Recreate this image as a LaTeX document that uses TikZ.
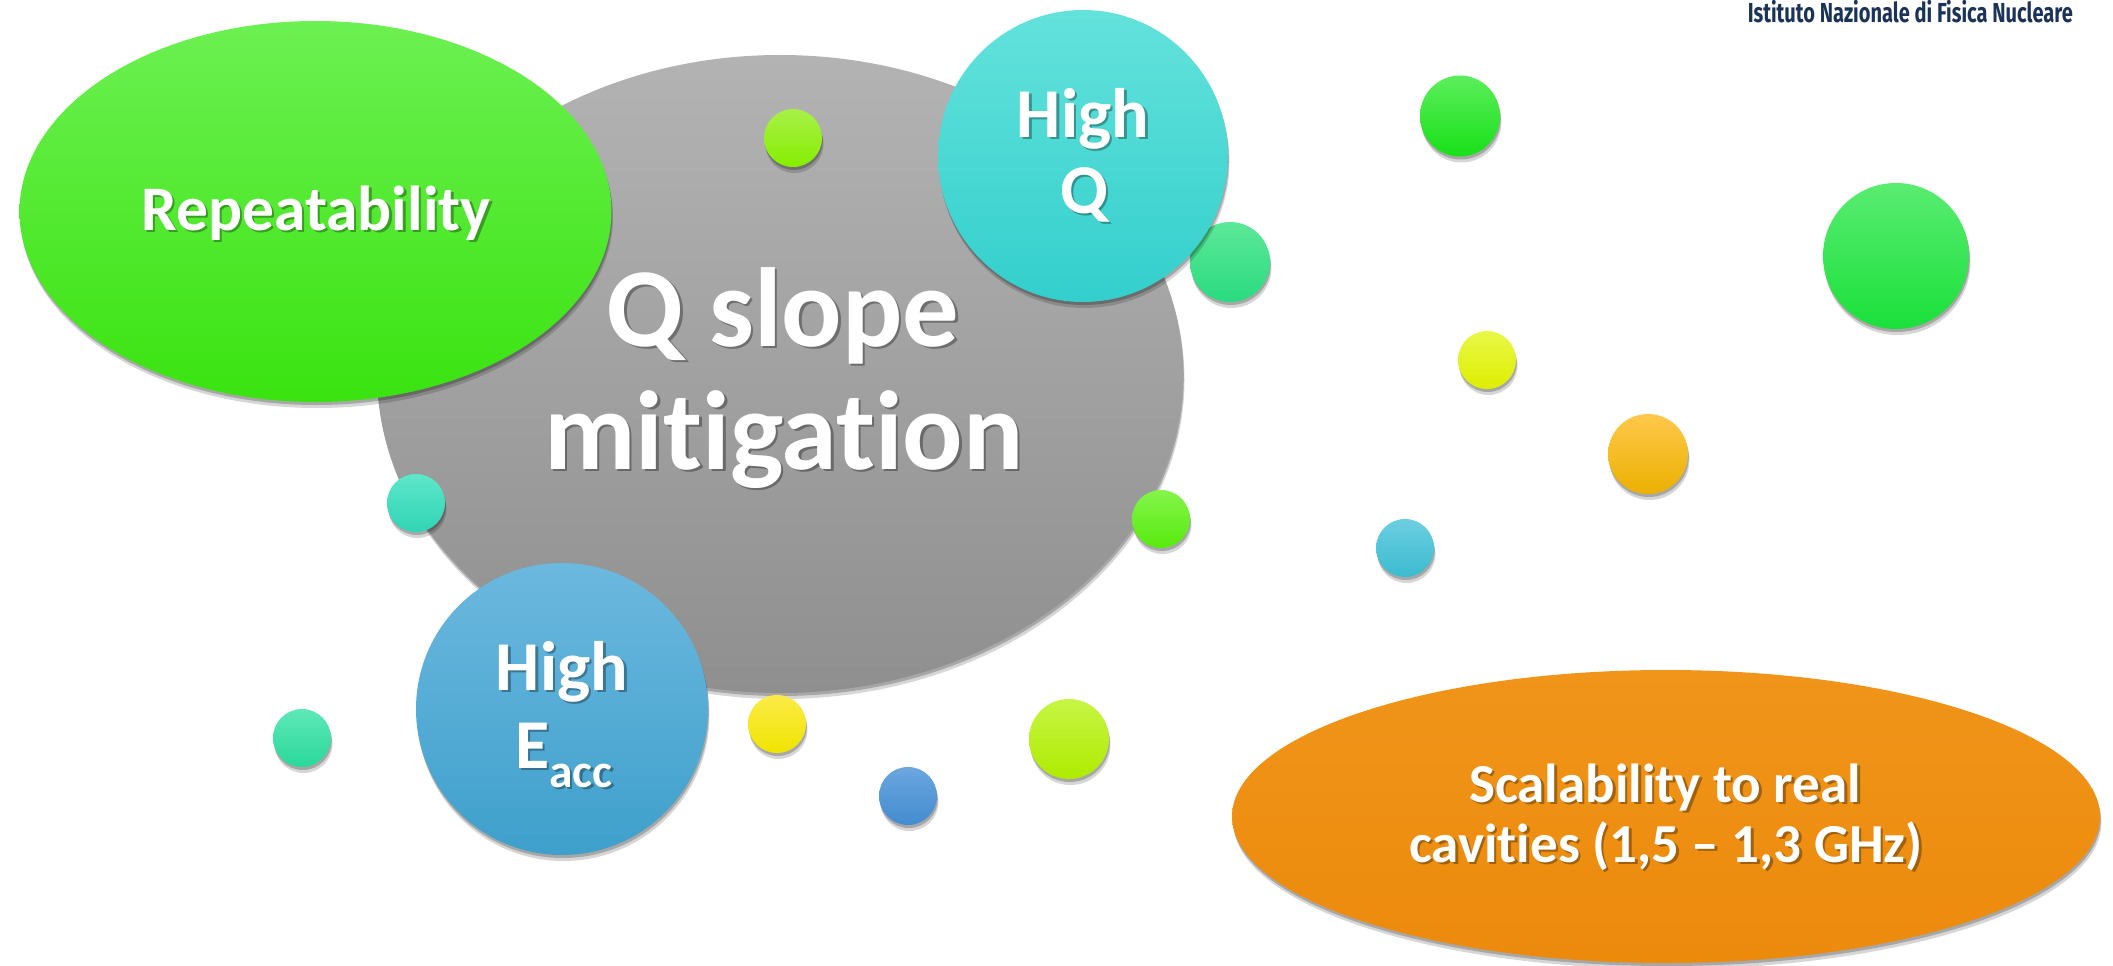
\documentclass[tikz,border=0pt]{standalone}
\usepackage{graphicx}
\usepackage{fontspec}
\setmainfont{Carlito}[Ligatures={NoCommon}]
\newfontfamily\infnfont{Fira Sans}
\usetikzlibrary{shapes.geometric,shadows}
\definecolor{grayT}{HTML}{B3B3B3}\definecolor{grayB}{HTML}{8F8F8F}
\definecolor{repT}{HTML}{6CF052}\definecolor{repB}{HTML}{3AE310}
\definecolor{hqT}{HTML}{64E2DC}\definecolor{hqB}{HTML}{33CFCC}
\definecolor{heT}{HTML}{6CB8DF}\definecolor{heB}{HTML}{3EA0CB}
\definecolor{orT}{HTML}{F0951A}\definecolor{orB}{HTML}{EC8A0C}
\definecolor{ygT}{HTML}{A8F048}\definecolor{ygB}{HTML}{86EE00}
\definecolor{tgT}{HTML}{5CE898}\definecolor{tgB}{HTML}{2ADB80}
\definecolor{tlT}{HTML}{5EE6CA}\definecolor{tlB}{HTML}{30D5B5}
\definecolor{gsT}{HTML}{84F54A}\definecolor{gsB}{HTML}{58EA0E}
\definecolor{teT}{HTML}{5EE8B8}\definecolor{teB}{HTML}{2AD89A}
\definecolor{yeT}{HTML}{FCEB48}\definecolor{yeB}{HTML}{EFE400}
\definecolor{blT}{HTML}{6CA6DE}\definecolor{blB}{HTML}{428CD0}
\definecolor{lmT}{HTML}{C8F545}\definecolor{lmB}{HTML}{AEEB00}
\definecolor{gnT}{HTML}{5CEE5C}\definecolor{gnB}{HTML}{18E018}
\definecolor{g2T}{HTML}{5AEC72}\definecolor{g2B}{HTML}{1AE03A}
\definecolor{y2T}{HTML}{E8F848}\definecolor{y2B}{HTML}{DEEE00}
\definecolor{amT}{HTML}{FFC84C}\definecolor{amB}{HTML}{EBB000}
\definecolor{btT}{HTML}{6CCFE0}\definecolor{btB}{HTML}{3BBBD0}
\definecolor{infn}{HTML}{1B3358}
\newcommand{\lbltext}[5]{%
  \node[lblsh, font=\fontsize{#4}{#4}\selectfont\bfseries] (#1-sh) at (#2,#3) {#5};
  \node[lbl, font=\fontsize{#4}{#4}\selectfont\bfseries] (#1) at (#2,#3) {#5};}
\begin{document}
\begin{tikzpicture}[x=1pt,y=-1pt,
  blob/.style={ellipse, inner sep=0pt, draw=none,
    drop shadow={opacity=0.16, fill=black, shadow xshift=1.5pt, shadow yshift=-6pt},
    drop shadow={opacity=0.22, fill=black, shadow xshift=0.8pt, shadow yshift=-3pt}},
  shp/.style n args={4}{blob, minimum width=#1pt, minimum height=#2pt, top color=#3, bottom color=#4},
  lbl/.style={anchor=base, inner sep=0pt, text=white},
  lblsh/.style={lbl, text=black, text opacity=0.32, xshift=2.5pt, yshift=-2.5pt}]
\useasboundingbox (0,0) rectangle (2113,966);
\fill[white] (0,0) rectangle (2113,966);
% main shapes
\node[shp={806}{638}{grayT}{grayB}] (qslope) at (780,374) {};
\node[shp={592}{381}{repT}{repB}] (repeat) at (315.5,211.5) {};
\node[shp={58}{58}{ygT}{ygB}] (c1) at (793,138) {};
\node[shp={80}{80}{tgT}{tgB}] (c2) at (1230,262) {};
\node[shp={58}{58}{tlT}{tlB}] (c3) at (416,503) {};
\node[shp={58}{58}{gsT}{gsB}] (c4) at (1161,519) {};
\node[shp={290}{292}{hqT}{hqB}] (highq) at (1083,156) {};
\node[shp={292}{292}{heT}{heB}] (higheacc) at (562,709) {};
\node[shp={58}{58}{teT}{teB}] (c5) at (302,738) {};
\node[shp={58}{58}{yeT}{yeB}] (c6) at (777,724) {};
\node[shp={58}{58}{blT}{blB}] (c7) at (908,796) {};
\node[shp={80}{80}{lmT}{lmB}] (c8) at (1069,739) {};
\node[shp={80}{81}{gnT}{gnB}] (c9) at (1460,116) {};
\node[shp={146}{146}{g2T}{g2B}] (c10) at (1896,256) {};
\node[shp={58}{58}{y2T}{y2B}] (c11) at (1487,360) {};
\node[shp={80}{80}{amT}{amB}] (c12) at (1648,454) {};
\node[shp={58}{58}{btT}{btB}] (c13) at (1405,548) {};
\node[shp={868}{293}{orT}{orB}] (scal) at (1666,816.5) {};
% labels
\lbltext{repL}{316}{230}{63.5}{Repeatability}
\lbltext{qsA}{783}{346}{112.5}{Q slope}
\lbltext{qsB}{784}{469}{112.5}{mitigation}
\lbltext{hqA}{1083}{137}{70}{High}
\lbltext{hqB}{1084}{213}{70}{Q}
\lbltext{heA}{562}{690}{70}{High}
\lbltext{heB}{564}{768}{70}{E\raisebox{-19pt}{\fontsize{47.5}{47.5}\selectfont acc}}
\lbltext{scA}{1665}{802}{55}{Scalability to real}
\lbltext{scB}{1666}{862}{55}{cavities (1,5 – 1,3 GHz)}
% header
\node[anchor=base east, inner sep=0pt, text=infn, font=\fontsize{27.5}{30}\selectfont\infnfont\bfseries] (infnL) at (2073,23) {\resizebox{325pt}{\height}{Istituto Nazionale di Fisica Nucleare}};
\end{tikzpicture}
\end{document}
